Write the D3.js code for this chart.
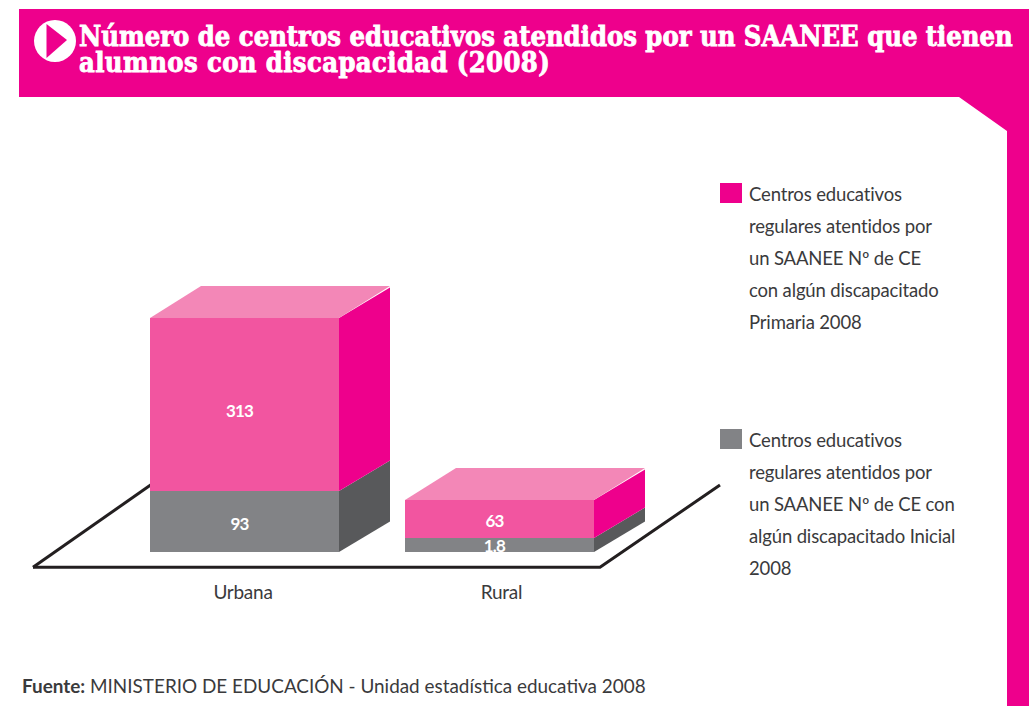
<!DOCTYPE html>
<html lang="es"><head><meta charset="utf-8">
<script src="https://cdnjs.cloudflare.com/ajax/libs/d3/7.8.5/d3.min.js"></script>
<style>html,body{margin:0;padding:0;background:#fff;overflow:hidden}svg{display:block}</style>
</head><body><svg id="c" width="1029" height="706"></svg>
<script>
const categories = ["Urbana", "Rural"];
const primariaValues = [313, 63];
const inicialValues = [93, 1.8];
const primariaLabels = ["313", "63"];
const inicialLabels = ["93", "1.8"];
const titleLines = ["Número de centros educativos atendidos por un SAANEE que tienen", "alumnos con discapacidad (2008)"];
const legendPrimaria = ["Centros educativos", "regulares atentidos por", "un SAANEE Nº de CE", "con algún discapacitado", "Primaria 2008"];
const legendInicial = ["Centros educativos", "regulares atentidos por", "un SAANEE Nº de CE con", "algún discapacitado Inicial", "2008"];
const sourceLabel = "Fuente:";
const sourceText = " MINISTERIO DE EDUCACIÓN - Unidad estadística educativa 2008";

const PINK = "#ee008c", PINK_FRONT = "#f255a0", PINK_TOP = "#f387b7";
const GRAY = "#828386", GRAY_SIDE = "#58595b", LINE = "#231f20", TEXT = "#3a3a3c";
const BODY = "Lato, 'Open Sans', sans-serif";

const svg = d3.select("#c");

// Page furniture
svg.append("path").attr("fill", PINK)
  .attr("d", "M19,9H1029V706H1007V131L959,97H19Z");
svg.append("circle").attr("cx", 55).attr("cy", 41).attr("r", 21).attr("fill", "#fff");
svg.append("path").attr("d", "M46.5,24L67,40L46.5,58Z").attr("fill", PINK);

const title = svg.selectAll("text.title").data(titleLines).join("text").attr("class", "title")
  .attr("x", 79).attr("y", (d, i) => 46 + i * 26)
  .attr("font-family", "'DejaVu Serif', serif").attr("font-weight", 700)
  .style("font-stretch", "condensed")
  .attr("font-size", 27).attr("fill", "#fff")
  .attr("stroke", "#fff").attr("stroke-width", 0.8)
  .attr("letter-spacing", (d, i) => i === 1 ? 0.4 : 0)
  .text(d => d);
// Fit the long line to the reference's width
const natural = title.node().getComputedTextLength();
title.attr("font-size", 27 * 934 / natural);

// Scales. The drawing is not to scale, so the height scale is piecewise through its labelled values.
const x = d3.scaleBand().domain(categories).range([150, 660]);
const labelX = d3.scalePoint().domain(categories).range([243, 501.5]);
const h = d3.scaleLinear().domain([1.8, 63, 93, 313]).range([14, 38, 61, 173]);
const barW = 189, baseY = 552, dx = 51, sideDy = 30.5, topDy = 32;

// Floor
const floor = d3.line();
svg.append("path").attr("fill", "none").attr("stroke", LINE).attr("stroke-width", 3)
  .attr("d", floor([[33, 567.3], [600, 567.3], [720, 485]]));
svg.append("path").attr("fill", "none").attr("stroke", LINE).attr("stroke-width", 3)
  .attr("d", floor([[33, 567.3], [152, 484]]));

const rows = categories.map((c, i) => ({ c, g: h(inicialValues[i]), p: h(primariaValues[i]), gl: inicialLabels[i], pl: primariaLabels[i] }));
const bars = svg.selectAll("g.bar").data(rows).join("g").attr("class", "bar")
  .attr("transform", d => `translate(${x(d.c)},0)`);

const poly = pts => "M" + pts.join("L") + "Z";
bars.append("path").attr("fill", GRAY_SIDE)
  .attr("d", d => poly([[barW, baseY], [barW + dx, baseY - sideDy], [barW + dx, baseY - sideDy - d.g], [barW, baseY - d.g]]));
bars.append("path").attr("fill", PINK)
  .attr("d", d => poly([[barW, baseY - d.g], [barW + dx, baseY - sideDy - d.g], [barW + dx, baseY - sideDy - d.g - d.p], [barW, baseY - d.g - d.p]]));
bars.append("path").attr("fill", PINK_TOP)
  .attr("d", d => { const t = baseY - d.g - d.p; return poly([[0, t], [barW, t], [barW + dx, t - topDy], [dx, t - topDy]]); });
bars.append("rect").attr("x", 0).attr("width", barW).attr("y", d => baseY - d.g).attr("height", d => d.g).attr("fill", GRAY);
bars.append("rect").attr("x", 0).attr("width", barW).attr("y", d => baseY - d.g - d.p).attr("height", d => d.p).attr("fill", PINK_FRONT);

const valueText = sel => sel.attr("x", barW / 2 - 5).attr("text-anchor", "middle").attr("fill", "#fff")
  .attr("font-family", BODY).attr("font-weight", 700).attr("font-size", 17).attr("letter-spacing", -0.8);
bars.append("text").call(valueText).attr("y", d => d.p > 100 ? 417 : 527).text(d => d.pl);
bars.append("text").call(valueText).attr("y", d => d.g > 20 ? 530 : 552).text(d => d.gl);

// Category labels
svg.selectAll("text.cat").data(categories).join("text").attr("class", "cat")
  .attr("x", d => labelX(d)).attr("y", 599).attr("text-anchor", "middle")
  .attr("font-family", BODY).attr("font-size", 19).attr("letter-spacing", -0.25).attr("fill", TEXT).text(d => d);

// Legend
const legends = [{ y: 183, color: PINK, lines: legendPrimaria }, { y: 429, color: GRAY, lines: legendInicial }];
const lg = svg.selectAll("g.lg").data(legends).join("g").attr("class", "lg");
lg.append("rect").attr("x", 720).attr("y", d => d.y).attr("width", 22).attr("height", 20).attr("fill", d => d.color);
lg.each(function (d) {
  d3.select(this).selectAll("text").data(d.lines).join("text")
    .attr("x", 749).attr("y", (l, i) => d.y + 18 + i * 32)
    .attr("font-family", BODY).attr("font-size", 18.5).attr("letter-spacing", -0.15).attr("fill", TEXT).text(l => l);
});

// Source
const src = svg.append("text").attr("x", 22).attr("y", 693).attr("font-family", BODY).attr("font-size", 18.9).attr("fill", TEXT);
src.append("tspan").attr("font-weight", 700).text(sourceLabel);
src.append("tspan").text(sourceText);
</script></body></html>
